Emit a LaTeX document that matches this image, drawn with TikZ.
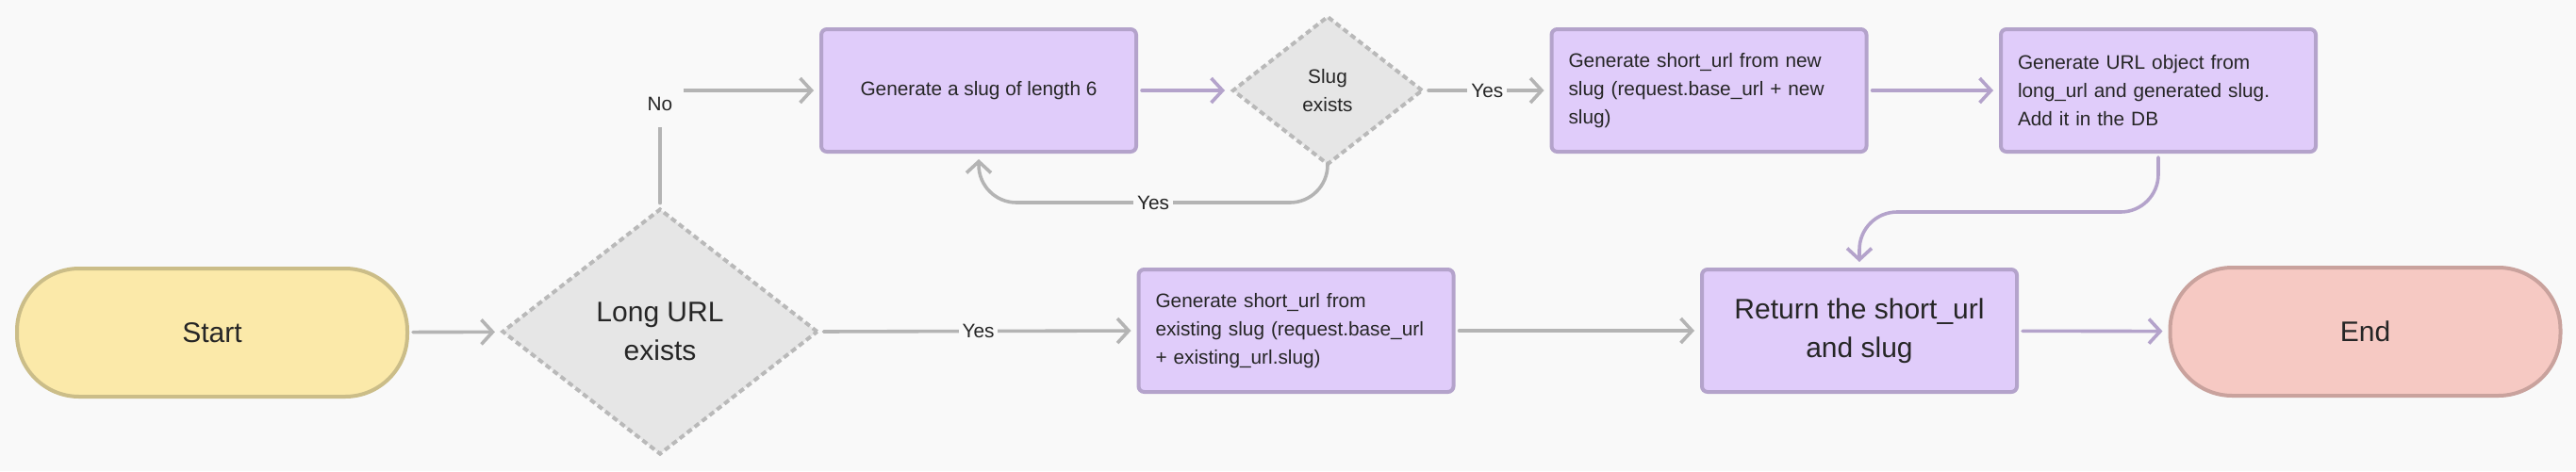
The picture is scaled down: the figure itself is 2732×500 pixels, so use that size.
\documentclass[tikz,border=0pt]{standalone}
\usepackage{fontspec}
\setmainfont{Liberation Sans}
\usetikzlibrary{shapes.geometric,arrows.meta}
\definecolor{bgc}{HTML}{F9F9F9}
\definecolor{pfill}{HTML}{E0CCFA}
\definecolor{pline}{HTML}{B4A3CB}
\definecolor{gline}{HTML}{B4B4B4}
\definecolor{dfill}{HTML}{E6E6E6}
\definecolor{dline}{HTML}{B9B9B9}
\definecolor{sfill}{HTML}{FBE9A9}
\definecolor{sline}{HTML}{CBBD88}
\definecolor{efill}{HTML}{F6C9C3}
\definecolor{eline}{HTML}{C9A29D}
\definecolor{txt}{HTML}{262626}
\tikzset{
  bigtext/.style={font=\fontsize{15pt}{20.5pt}\selectfont, text=txt},
  smalltext/.style={font=\fontsize{10.4pt}{15pt}\selectfont, text=txt},
  term/.style={bigtext, draw, line width=2pt, rounded corners=33pt, minimum width=207pt, minimum height=68pt},
  procbox/.style={smalltext, draw=pline, fill=pfill, line width=2pt, rounded corners=3pt, minimum width=167pt, minimum height=65pt},
  lbox/.style={procbox, text width=149pt, inner xsep=9pt, align=left},
  decision/.style={diamond, draw=dline, fill=dfill, line width=2pt, dash pattern=on 3pt off 2pt, inner sep=0pt, align=center, text=txt},
  arr/.style={line width=1.8pt, line cap=round, line join=round, -{Straight Barb[length=6pt,width=13pt]}, shorten >=3pt, shorten <=2pt},
  garr/.style={arr, draw=gline},
  parr/.style={arr, draw=pline},
  lab/.style={smalltext, fill=bgc, inner sep=2pt}
}
\begin{document}
\begin{tikzpicture}[x=0.5pt, y=-0.5pt]
\fill[bgc] (0,0) rectangle (2732,500);
\useasboundingbox (0,0) rectangle (2732,500);

\node[term, draw=sline, fill=sfill] (start) at (225,353) {Start};
\node[decision, bigtext, minimum width=167.5pt, minimum height=130.5pt] (d1) at (700,352) {Long URL\\exists};
\node[procbox, align=center] (slug) at (1038,96) {Generate a slug of length 6};
\node[decision, smalltext, minimum width=101pt, minimum height=79pt] (slugd) at (1408,96) {Slug\\exists};
\node[lbox] (newslug) at (1812.5,96) {Generate short\_url from new\\slug (request.base\_url + new\\slug)};
\node[lbox] (urlobj) at (2289,96) {Generate URL object from\\long\_url and generated slug.\\Add it in the DB};
\node[lbox] (existing) at (1374.5,351) {Generate short\_url from\\existing slug (request.base\_url\\+ existing\_url.slug)};
\node[procbox, bigtext, align=center] (ret) at (1972,351) {Return the short\_url\\and slug};
\node[term, draw=eline, fill=efill] (end) at (2508.5,352) {End};

\draw[garr] (start) -- (d1);
\draw[garr] (d1.north) |- node[lab, pos=0.44, minimum width=25pt, minimum height=24pt] {No} (slug.west);
\draw[parr] (slug) -- (slugd);
\draw[garr] (slugd.east) -- node[lab] {Yes} (newslug.west);
\draw[garr, rounded corners=20pt] (slugd.south) -- ++(0,38) -| node[lab, pos=0.25] {Yes} (slug.south);
\draw[parr] (newslug) -- (urlobj);
\draw[parr, rounded corners=20pt] (urlobj.south) -- ++(0,62) -| (ret.north);
\draw[garr] (d1.east) -- node[lab] {Yes} (existing.west);
\draw[garr] (existing) -- (ret);
\draw[parr] (ret) -- (end);
\end{tikzpicture}
\end{document}
